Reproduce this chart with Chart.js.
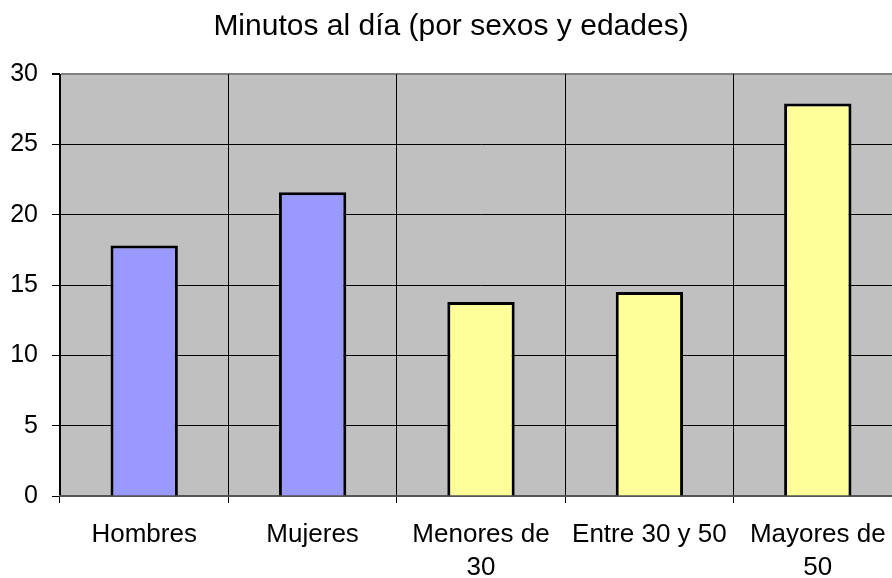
<!DOCTYPE html>
<html>
<head>
<meta charset="utf-8">
<script src="https://cdn.jsdelivr.net/npm/chart.js@4/dist/chart.umd.min.js"></script>
<style>
  html, body { margin: 0; padding: 0; background: #fff; overflow: hidden; }
  #wrap { width: 902px; height: 578px; }
</style>
</head>
<body>
<div id="wrap"><canvas id="myChart" width="902" height="578"></canvas></div>
<script>
// categories (two-line labels where the picture wraps)
const categories = ["Hombres", "Mujeres", ["Menores de", "30"], "Entre 30 y 50", ["Mayores de", "50"]];
// minutes per day
const minutes = [17.8, 21.6, 13.8, 14.5, 27.9];
const barColors = ["#9999ff", "#9999ff", "#ffff99", "#ffff99", "#ffff99"];
const yTicks = [0, 5, 10, 15, 20, 25, 30];

const fontFamily = "'Liberation Sans', Arial, sans-serif";

const data = {
  labels: categories,
  datasets: [
    {
      label: "Minutos",
      data: minutes,
      backgroundColor: barColors,
      borderColor: "#000",
      borderWidth: 3,
      barPercentage: 0.4,
      categoryPercentage: 1,
    },
  ],
};

// paint the gray plot background
const plotBg = {
  id: "plotBg",
  beforeDraw(chart) {
    const a = chart.chartArea;
    const ctx = chart.ctx;
    ctx.save();
    ctx.fillStyle = "#c0c0c0";
    ctx.fillRect(a.left, a.top, a.right - a.left, a.bottom - a.top);
    ctx.restore();
  },
};

const config = {
  type: "bar",
  data,
  plugins: [plotBg],
  options: {
    responsive: false,
    animation: false,
    layout: { padding: { left: 0, right: 0, top: 0, bottom: 0 } },
    plugins: {
      legend: { display: false },
      tooltip: { enabled: false },
      title: {
        display: true,
        text: "Minutos al día (por sexos y edades)",
        color: "#000",
        font: { family: fontFamily, size: 30, weight: "normal" },
        padding: { top: 9, bottom: 29 },
      },
    },
    scales: {
      y: {
        min: 0,
        max: 30,
        afterBuildTicks: (axis) => {
          axis.ticks = yTicks.map((v) => ({ value: v }));
        },
        afterFit: (axis) => {
          axis.width = 60;
        },
        ticks: {
          color: "#000",
          padding: 14,
          font: { family: fontFamily, size: 25 },
        },
        grid: {
          color: (c) => (c.tick && c.tick.value === 30 ? "#808080" : "#000"),
          lineWidth: (c) => (c.tick && c.tick.value === 30 ? 2 : 1),
          tickLength: 8,
          tickColor: "#000",
        },
        border: { color: "#000", width: 1 },
      },
      x: {
        offset: true,
        afterFit: (axis) => {
          axis.height = 82;
        },
        ticks: {
          color: "#000",
          padding: 15,
          maxRotation: 0,
          autoSkip: false,
          font: { family: fontFamily, size: 26, lineHeight: 1.27 },
        },
        grid: {
          offset: true,
          color: "#000",
          lineWidth: 1,
          tickLength: 7,
        },
        border: { color: "#555", width: 2 },
      },
    },
  },
};

let myChart = new Chart(document.getElementById("myChart"), config);
</script>
</body>
</html>
